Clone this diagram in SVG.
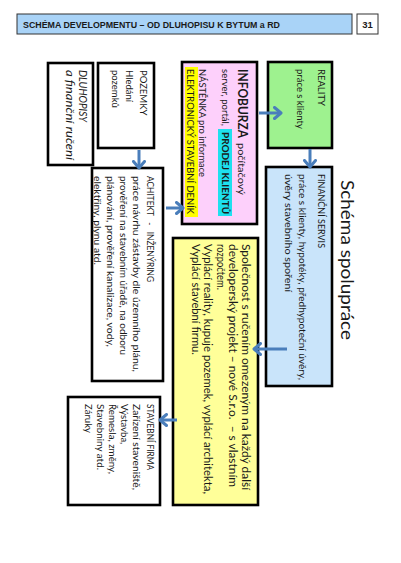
<svg xmlns="http://www.w3.org/2000/svg" width="401" height="563" viewBox="0 0 401 563">
<style>
text { font-family: Lato, "Open Sans", "Liberation Sans", sans-serif; fill: #1a1a1a; }
.s9 { font-size: 9.5px; }
.s10 { font-size: 10.5px; }
.b { font-weight: bold; }
.it { font-style: italic; font-size: 11px; }
.box { stroke: #000; stroke-width: 2.6; }
.arr { stroke: #4a7ebb; stroke-width: 3; fill: none; marker-end: url(#ah); }
.pre { white-space: pre; }
.hdr { font-family: "Liberation Sans", Arial, sans-serif; font-weight: bold; font-size: 9.5px; }
</style>
<defs>
<marker id="ah" viewBox="0 0 10 14" refX="8" refY="7" markerWidth="10" markerHeight="14" markerUnits="userSpaceOnUse" orient="auto">
<path d="M1.5,1.5 L8,7 L1.5,12.5" fill="none" stroke="#4a7ebb" stroke-width="3" stroke-linecap="round" stroke-linejoin="round"/>
</marker>
</defs>
<rect width="401" height="563" fill="#fff"/>

<g id="header">
<rect x="17" y="14" width="335" height="20" fill="#a9d3f7" stroke="#333" stroke-width="1"/>
<text class="hdr" x="23" y="27.5" textLength="257" lengthAdjust="spacingAndGlyphs">SCHÉMA DEVELOPMENTU – OD DLUHOPISU K BYTUM a RD</text>
</g>
<g id="page-number">
<rect x="357" y="14" width="21" height="20" fill="#fff" stroke="#333" stroke-width="1"/>
<text class="hdr" x="367.5" y="27.5" text-anchor="middle">31</text>
</g>

<g id="title">
<text transform="translate(341,180) rotate(90)" style="font-size:17px" textLength="160" lengthAdjust="spacingAndGlyphs">Schéma spolupráce</text>
</g>

<g id="dluhopisy">
<rect class="box" x="48" y="63" width="45" height="102" fill="#fff"/>
<g transform="translate(93,63) rotate(90)">
<text class="it" x="7" y="14" textLength="52" lengthAdjust="spacingAndGlyphs">DLUHOPISY</text>
<text class="it" x="7" y="27" textLength="90" lengthAdjust="spacingAndGlyphs">a finanční ručení</text>
</g>
</g>

<g id="pozemky">
<rect class="box" x="98" y="63" width="56" height="85" fill="#fff"/>
<g transform="translate(154,63) rotate(90)">
<text class="s9" x="7" y="14">POZEMKY</text>
<text class="s9" x="7" y="28">Hledání</text>
<text class="s9" x="7" y="42">pozemků</text>
</g>
</g>

<g id="infoburza">
<rect class="box" x="182" y="62" width="75" height="162" fill="#fdd0fb"/>
<g transform="translate(257,62) rotate(90)">
<rect x="67" y="25" width="87" height="14" fill="#1ee0ee"/>
<rect x="5" y="59" width="150" height="13" fill="#ffff00"/>
<text class="b" x="7" y="19" style="font-size:14px" textLength="69" lengthAdjust="spacingAndGlyphs">INFOBURZA</text>
<text class="s9" x="81" y="19" textLength="52" lengthAdjust="spacingAndGlyphs">počítačový</text>
<text class="s9" x="7" y="35" textLength="57" lengthAdjust="spacingAndGlyphs">server, portál,</text>
<text class="b" x="70" y="35" style="font-size:10px" textLength="82" lengthAdjust="spacingAndGlyphs">PRODEJ KLIENTŮ</text>
<text class="s9" x="7" y="58" textLength="108" lengthAdjust="spacingAndGlyphs">NÁSTĚNKA pro informace</text>
<text class="s9" x="7" y="70" textLength="145" lengthAdjust="spacingAndGlyphs">ELEKTRONICKÝ STAVEBNÍ DENÍK</text>
</g>
</g>

<g id="reality">
<rect class="box" x="268" y="62" width="64" height="86" fill="#9ef28f"/>
<g transform="translate(332,62) rotate(90)">
<text class="s9" x="7" y="14">REALITY</text>
<text class="s9" x="7" y="35">práce s klienty</text>
</g>
</g>

<g id="financni-servis">
<rect class="box" x="266" y="167" width="66" height="219" fill="#c9e4fa"/>
<g transform="translate(332,167) rotate(90)">
<text class="s9" x="7" y="14" textLength="74" lengthAdjust="spacingAndGlyphs">FINANČNÍ SERVIS</text>
<text class="s9" x="7" y="33" textLength="206" lengthAdjust="spacingAndGlyphs">práce s klienty, hypotéky, předhypoteční úvěry,</text>
<text class="s9" x="7" y="47" textLength="118" lengthAdjust="spacingAndGlyphs">úvěry stavebního spoření</text>
</g>
</g>

<g id="architekt">
<rect class="box" x="92" y="168" width="71" height="213" fill="#fff"/>
<g transform="translate(163,168) rotate(90)">
<text class="s9 pre" x="8" y="16" textLength="106" lengthAdjust="spacingAndGlyphs">ACHITEKT   -   INŽENÝRING</text>
<text class="s9" x="8" y="30" textLength="196" lengthAdjust="spacingAndGlyphs">práce návrhu zástavby dle územního plánu,</text>
<text class="s9" x="8" y="43" textLength="179" lengthAdjust="spacingAndGlyphs">prověření na stavebním úřadě, na odboru</text>
<text class="s9" x="8" y="56" textLength="171" lengthAdjust="spacingAndGlyphs">plánování, prověření kanalizace, vody,</text>
<text class="s9" x="8" y="69" textLength="89" lengthAdjust="spacingAndGlyphs">elektřiny, plynu atd.</text>
</g>
</g>

<g id="spolecnost">
<rect class="box" x="173" y="238" width="85" height="267" fill="#ffff99"/>
<g transform="translate(258,238) rotate(90)">
<text class="s10" x="6" y="16.5" textLength="246" lengthAdjust="spacingAndGlyphs">Společnost s ručením omezeným na každý další</text>
<text class="s10 pre" x="6" y="29" textLength="243" lengthAdjust="spacingAndGlyphs">developerský projekt – nové S.r.o.  – s vlastním</text>
<text class="s10" x="6" y="41.5" textLength="46" lengthAdjust="spacingAndGlyphs">rozpočtem.</text>
<text class="s10" x="6" y="54" textLength="250" lengthAdjust="spacingAndGlyphs">Vyplácí reality, kupuje pozemek, vyplácí architekta,</text>
<text class="s10" x="6" y="66.5" textLength="111" lengthAdjust="spacingAndGlyphs">Vyplácí stavební firmu.</text>
</g>
</g>

<g id="stavebni-firma">
<rect class="box" x="68" y="397" width="92" height="108" fill="#fff"/>
<g transform="translate(160,397) rotate(90)">
<text class="s9" x="7" y="13" textLength="66" lengthAdjust="spacingAndGlyphs">STAVEBNÍ FIRMA</text>
<text class="s9" x="7" y="27" textLength="86" lengthAdjust="spacingAndGlyphs">Zařízení staveniště,</text>
<text class="s9" x="7" y="39">Výstavba,</text>
<text class="s9" x="7" y="51" textLength="70" lengthAdjust="spacingAndGlyphs">Řemesla, změny,</text>
<text class="s9" x="7" y="63" textLength="66" lengthAdjust="spacingAndGlyphs">Stavebniny atd.</text>
<text class="s9" x="7" y="75">Záruky</text>
</g>
</g>

<g id="connectors">
<path class="arr" d="M139,150 L139,168"/>
<path class="arr" d="M166,208 L183,208"/>
<path class="arr" d="M259,113 L281,113"/>
<path class="arr" d="M310,149 L310,167"/>
<path class="arr" d="M287,349 L254,349"/>
<path class="arr" d="M177,420 L160,420"/>
</g>
</svg>
